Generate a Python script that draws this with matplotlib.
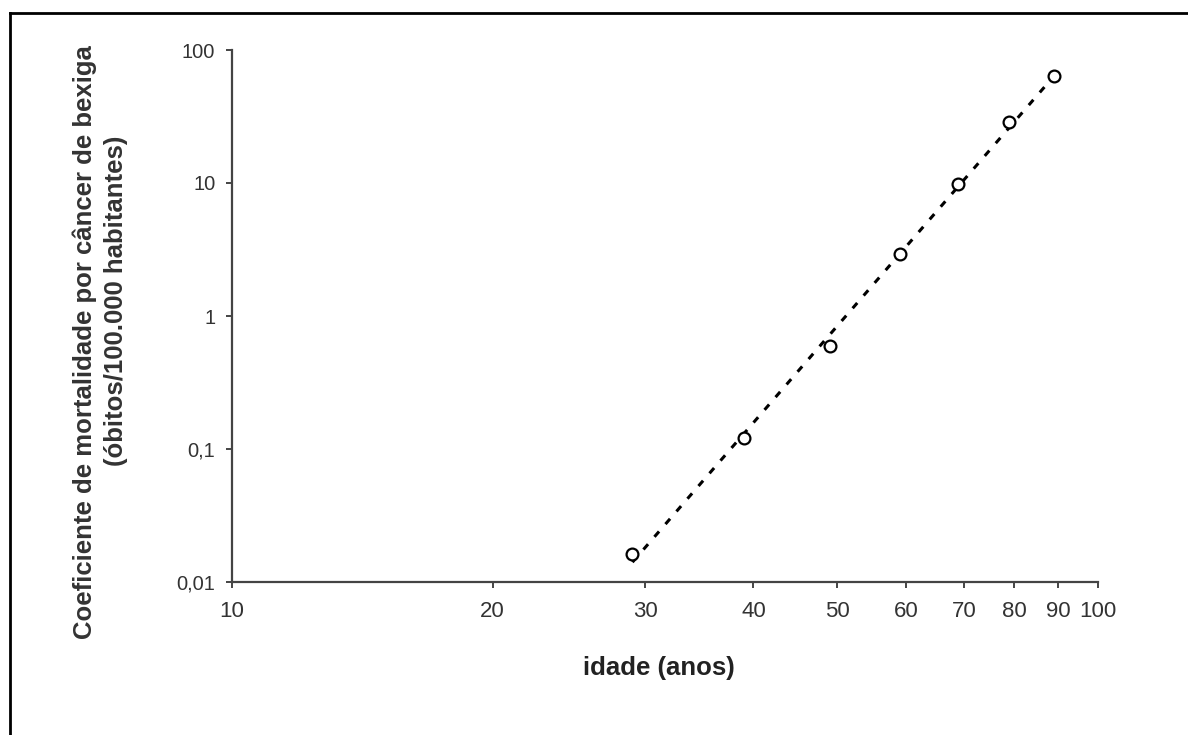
# Mortalidade por cancer de bexiga x idade (escala log-log)

import numpy as np
import matplotlib
matplotlib.use('Agg')
import matplotlib.pyplot as plt
from matplotlib.ticker import FixedLocator, FixedFormatter, NullLocator

plt.rcParams['font.family'] = ['Liberation Sans', 'DejaVu Sans']

#--------data--------------------

idade = [29, 39, 49, 59, 69, 79, 89]
coef  = [0.0162, 0.121, 0.595, 2.93, 9.8, 28.7, 63.8]

x_ticks = [10, 20, 30, 40, 50, 60, 70, 80, 90, 100]
y_ticks = [0.01, 0.1, 1, 10, 100]
y_tick_labels = ['0,01', '0,1', '1', '10', '100']

ylabel_1 = 'Coeficiente de mortalidade por câncer de bexiga'
ylabel_2 = '(óbitos/100.000 habitantes)'

idade = np.array(idade, dtype=float)
coef  = np.array(coef)

# power-law trendline (fit in log-log)
B, logA = np.polyfit(np.log10(idade), np.log10(coef), 1)
x_line = np.linspace(idade.min(), idade.max(), 50)
y_line = 10**logA * x_line**B

#--------plot--------------------

W, H = 1188., 735.
fig = plt.figure(figsize=(W/100, H/100), dpi=100)
ax = fig.add_axes([232/W, 1-582/H, 866/W, 532/H])

ax.plot(x_line, y_line, color='black', linestyle=(0, (2.3, 3.2)), lw=2.2, zorder=2)
ax.plot(idade, coef, linestyle='none', marker='o', markersize=8.5,
        markerfacecolor='white', markeredgecolor='black', markeredgewidth=1.6, zorder=3)

ax.set_xscale('log')
ax.set_yscale('log')
ax.set_xlim(10, 100)
ax.set_ylim(0.01, 100)

ax.xaxis.set_major_locator(FixedLocator(x_ticks))
ax.xaxis.set_major_formatter(FixedFormatter([str(t) for t in x_ticks]))
ax.xaxis.set_minor_locator(NullLocator())
ax.yaxis.set_major_locator(FixedLocator(y_ticks))
ax.yaxis.set_major_formatter(FixedFormatter(y_tick_labels))
ax.yaxis.set_minor_locator(NullLocator())

for s in ['top', 'right']:
	ax.spines[s].set_visible(False)
for s in ['left', 'bottom']:
	ax.spines[s].set_color('#444444')
	ax.spines[s].set_linewidth(1.6)

ax.tick_params(axis='both', direction='out', length=4, width=1.4, color='#444444',
               labelcolor='#333333')
ax.tick_params(axis='x', pad=10, labelsize=16)
ax.tick_params(axis='y', pad=8, labelsize=14.5)

ax.set_xlabel('idade (anos)', fontsize=18.5, fontweight='bold', color='#222222', va='top')
ax.xaxis.set_label_coords(0.493, -0.139)

# y label: two separate lines as in the original
fig.text(92/W, 1-342/H, ylabel_1, rotation=90, rotation_mode='anchor', ha='center',
         va='baseline', fontsize=18.5, fontweight='bold', color='#333333')
fig.text(123/W, 1-301/H, ylabel_2, rotation=90, rotation_mode='anchor', ha='center',
         va='baseline', fontsize=18.5, fontweight='bold', color='#333333')

# outer frame (top and left edges visible in the original)
fig.add_artist(plt.Line2D([10/W, 10/W], [0, 1 - 13/H], color='black', lw=2,
                          transform=fig.transFigure))
fig.add_artist(plt.Line2D([10/W, 1], [1 - 13/H, 1 - 13/H], color='black', lw=2,
                          transform=fig.transFigure))

plt.savefig('out.png', dpi=100)
plt.close('all')
